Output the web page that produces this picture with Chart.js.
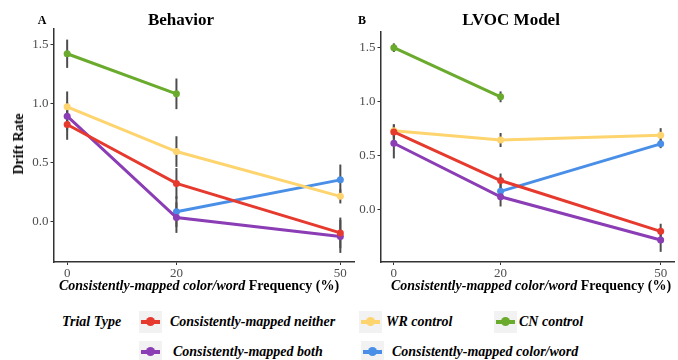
<!DOCTYPE html>
<html>
<head>
<meta charset="utf-8">
<script src="https://cdn.jsdelivr.net/npm/chart.js@4"></script>
<style>
  body { margin: 0; background: #fff; }
  #wrap { position: relative; width: 678px; height: 360px; overflow: hidden; font-family: 'Liberation Serif', serif; }
  canvas { position: absolute; top: 0; }
  .txt { position: absolute; white-space: nowrap; color: #000; font-weight: bold; }
  .key { position: absolute; width: 23px; height: 22px; background: #f2f2f2; }
  .key .ln { position: absolute; left: 2px; right: 2px; top: 9px; height: 4px; }
  .key .dt { position: absolute; left: 7px; top: 6px; width: 9px; height: 9px; border-radius: 50%; }
</style>
</head>
<body>
<div id="wrap">
  <canvas id="behChart" width="358" height="280" style="left:0"></canvas>
  <canvas id="modChart" width="338" height="280" style="left:340px"></canvas>
</div>
<script>
// x values and tick labels
const xValues = [0, 20, 50];
const yTicks = [0, 0.5, 1, 1.5];

const seriesNames = ['Consistently-mapped neither', 'WR control', 'CN control',
                     'Consistently-mapped both', 'Consistently-mapped color/word'];
const seriesColors = ['#e63a2e', '#fed46e', '#6aab2d', '#8b3db5', '#4a8fe7'];

// Behavior (panel A): means and error half-widths
const behNeither    = [0.82, 0.32, -0.10];
const behWR         = [0.97, 0.59, 0.21];
const behCN         = [1.42, 1.08, null];
const behBoth       = [0.89, 0.03, -0.13];
const behColorWord  = [null, 0.08, 0.35];
const behNeitherErr   = [0.13, 0.13, 0.13];
const behWRErr        = [0.13, 0.13, 0.06];
const behCNErr        = [0.12, 0.13, null];
const behBothErr      = [0.12, 0.13, 0.14];
const behColorWordErr = [null, 0.13, 0.13];

// LVOC model (panel B)
const modNeither    = [0.72, 0.27, -0.20];
const modWR         = [0.73, 0.645, 0.69];
const modCN         = [1.50, 1.045, null];
const modBoth       = [0.615, 0.12, -0.28];
const modColorWord  = [null, 0.17, 0.61];
const modNeitherErr   = [0.07, 0.065, 0.07];
const modWRErr        = [0.06, 0.065, 0.065];
const modCNErr        = [0.04, 0.05, null];
const modBothErr      = [0.14, 0.09, 0.11];
const modColorWordErr = [null, 0.07, 0.04];

const behSeries = [behNeither, behWR, behCN, behBoth, behColorWord];
const behErrs = [behNeitherErr, behWRErr, behCNErr, behBothErr, behColorWordErr];
const modSeries = [modNeither, modWR, modCN, modBoth, modColorWord];
const modErrs = [modNeitherErr, modWRErr, modCNErr, modBothErr, modColorWordErr];

function makeDatasets(series, errs) {
  return series.map((vals, s) => ({
    label: seriesNames[s],
    data: xValues.map((x, i) => ({ x: x, y: vals[i], e: errs[s][i] })).filter(p => p.y !== null),
    borderColor: seriesColors[s],
    backgroundColor: seriesColors[s],
    borderWidth: 3,
    pointRadius: 3.5,
    pointBorderWidth: 0,
    tension: 0
  }));
}

// vertical error bars drawn under the lines
const errorBars = {
  id: 'errorBars',
  beforeDatasetsDraw(chart) {
    const ctx = chart.ctx;
    const xs = chart.scales.x, ys = chart.scales.y;
    ctx.save();
    ctx.strokeStyle = '#4d4d4d';
    ctx.lineWidth = 2;
    chart.data.datasets.forEach(ds => {
      ds.data.forEach(p => {
        if (p.e == null) return;
        const px = xs.getPixelForValue(p.x);
        ctx.beginPath();
        ctx.moveTo(px, ys.getPixelForValue(p.y + p.e));
        ctx.lineTo(px, ys.getPixelForValue(p.y - p.e));
        ctx.stroke();
      });
    });
    ctx.restore();
  }
};

function makeChart(id, series, errs, yMin, yMax, padTop, padRight, yWidth) {
  const tickFont = { family: 'Liberation Serif', size: 13 };
  return new Chart(document.getElementById(id), {
    type: 'line',
    data: { datasets: makeDatasets(series, errs) },
    plugins: [errorBars],
    options: {
      responsive: false,
      animation: false,
      layout: { padding: { top: padTop, right: padRight, left: 0, bottom: 0 } },
      plugins: { legend: { display: false }, tooltip: { enabled: false } },
      scales: {
        x: {
          type: 'linear', min: -2.5, max: 52.5,
          afterBuildTicks: s => { s.ticks = xValues.map(v => ({ value: v })); },
          afterFit: s => { s.height = 18; },
          ticks: { font: tickFont, color: '#4d4d4d', padding: 1, maxRotation: 0 },
          grid: { drawOnChartArea: false, drawTicks: true, tickLength: 3, color: '#333' },
          border: { display: true, color: '#333', width: 1.5 }
        },
        y: {
          type: 'linear', min: yMin, max: yMax,
          afterBuildTicks: s => { s.ticks = yTicks.map(v => ({ value: v })); },
          afterFit: s => { s.width = yWidth; },
          ticks: { font: tickFont, color: '#4d4d4d', padding: 2, callback: v => v.toFixed(1) },
          grid: { drawOnChartArea: false, drawTicks: true, tickLength: 3, color: '#333' },
          border: { display: true, color: '#333', width: 1.5 }
        }
      }
    }
  });
}

makeChart('behChart', behSeries, behErrs, -0.347, 1.63, 29, 4, 53.5);
makeChart('modChart', modSeries, modErrs, -0.484, 1.645, 32, 0, 40.5);

// titles, axis labels and legend
const wrap = document.getElementById('wrap');
function addText(html, x, y, css, anchor) {
  const d = document.createElement('div');
  d.className = 'txt';
  d.innerHTML = html;
  d.style.left = x + 'px';
  d.style.top = y + 'px';
  d.style.cssText += css;
  d.style.transform = anchor === 'left' ? 'translateY(-50%)' : 'translate(-50%,-50%)';
  wrap.appendChild(d);
  return d;
}
addText('A', 42, 20, 'font-size:12px;');
addText('Behavior', 181, 20, 'font-size:17px;');
addText('B', 362, 20, 'font-size:12px;');
addText('LVOC Model', 511, 20, 'font-size:17px;');
const yt = addText('Drift Rate', 19, 144, 'font-size:14px;');
yt.style.transform = 'translate(-50%,-50%) rotate(-90deg)';
const xTitle = '<i>Consistently-mapped color/word</i> Frequency (%)';
addText(xTitle, 199, 286, 'font-size:14px;');
addText(xTitle, 531, 286, 'font-size:14px;');

addText('<i>Trial Type</i>', 62, 322, 'font-size:14px;', 'left');
const legendSlots = [
  { key: 139, label: 170, y: 322 },
  { key: 359, label: 386, y: 322 },
  { key: 494, label: 519, y: 322 },
  { key: 139, label: 173, y: 352 },
  { key: 361, label: 392, y: 352 }
];
seriesNames.forEach((name, i) => {
  const slot = legendSlots[i];
  const k = document.createElement('div');
  k.className = 'key';
  k.style.left = slot.key + 'px';
  k.style.top = (slot.y - 11) + 'px';
  k.innerHTML = '<div class="ln" style="background:' + seriesColors[i] + '"></div>' +
                '<div class="dt" style="background:' + seriesColors[i] + '"></div>';
  wrap.appendChild(k);
  addText('<i>' + name + '</i>', slot.label, slot.y, 'font-size:14px;', 'left');
});
</script>
</body>
</html>
